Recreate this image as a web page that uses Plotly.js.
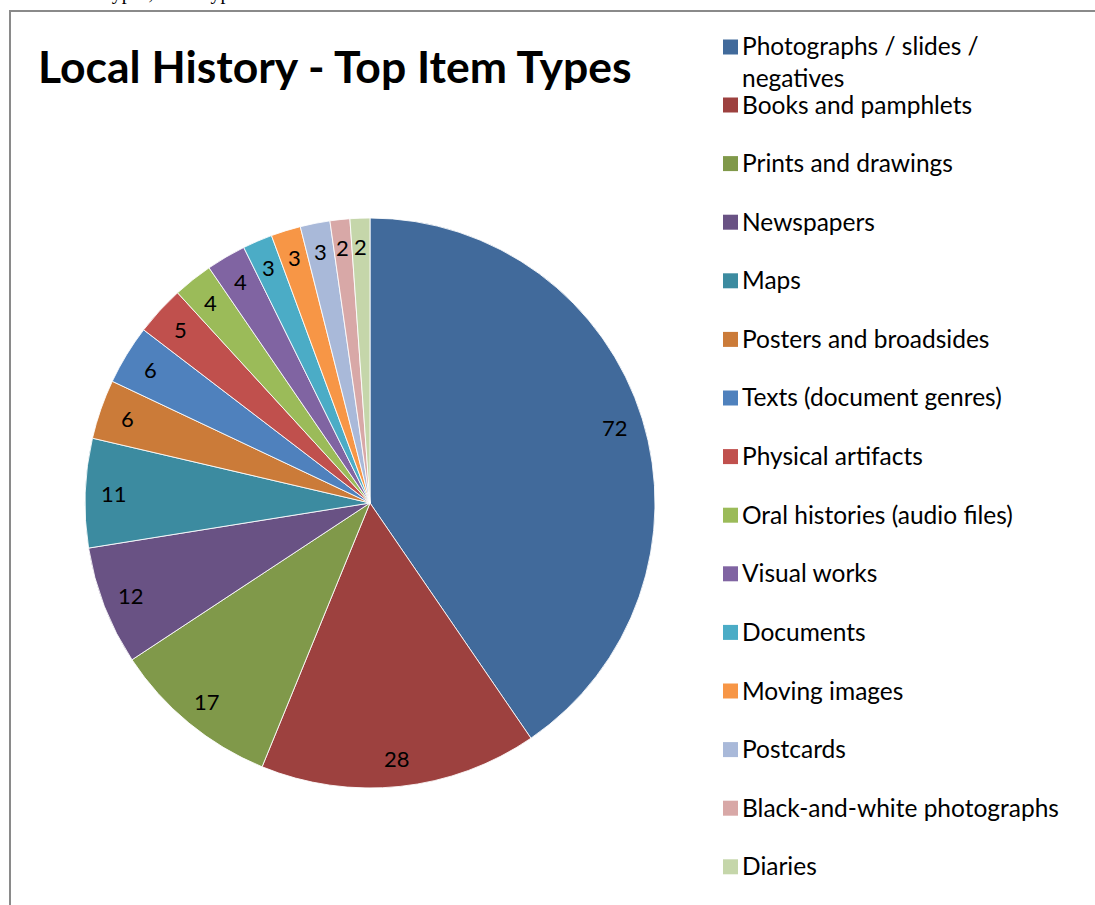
<!DOCTYPE html>
<html>
<head>
<meta charset="utf-8">
<script src="https://cdn.plot.ly/plotly-3.0.1.min.js"></script>
<style>html,body{margin:0;padding:0;background:#fff;}#chart{width:1095px;height:905px;}</style>
</head>
<body>
<div id="chart"></div>
<script>
// ---- data ----
const categories = [
  "Photographs / slides / negatives",
  "Books and pamphlets",
  "Prints and drawings",
  "Newspapers",
  "Maps",
  "Posters and broadsides",
  "Texts (document genres)",
  "Physical artifacts",
  "Oral histories (audio files)",
  "Visual works",
  "Documents",
  "Moving images",
  "Postcards",
  "Black-and-white photographs",
  "Diaries"
];
const values = [72, 28, 17, 12, 11, 6, 6, 5, 4, 4, 3, 3, 3, 2, 2];
const legendLabels = [
  "Photographs / slides /<br>negatives",
  "Books and pamphlets",
  "Prints and drawings",
  "Newspapers",
  "Maps",
  "Posters and broadsides",
  "Texts (document genres)",
  "Physical artifacts",
  "Oral histories (audio files)",
  "Visual works",
  "Documents",
  "Moving images",
  "Postcards",
  "Black-and-white photographs",
  "Diaries"
];
const colors = [
  "#416A9B", "#9D413F", "#80994A", "#695284", "#3C8BA0", "#CB7B39",
  "#4F81BD", "#C0504D", "#9BBB59", "#8064A2", "#4BACC6", "#F79646",
  "#A9B9D9", "#D8A8A7", "#C5D6AA"
];
const titleText = "Local History - Top Item Types";
const clippedText = "Types, Item Types";

// ---- layout constants ----
const W = 1095, H = 905;
const cx = 370, cy = 503, R = 285;
const labelFactor = 0.9;
const legendX = 723, legendTop = 46, legendStep = 58.6, swatch = 15;
const font = "Lato, 'Open Sans', sans-serif";

const px = x => x / W;
const py = y => 1 - y / H;

const trace = {
  type: "pie",
  labels: categories,
  values: values,
  sort: false,
  direction: "clockwise",
  rotation: 0,
  textinfo: "none",
  hoverinfo: "label+value",
  marker: { colors: colors, line: { color: "rgba(255,255,255,0.85)", width: 1 } },
  domain: { x: [px(cx - R), px(cx + R)], y: [py(cy + R), py(cy - R)] },
  showlegend: false
};

const annotations = [];
const shapes = [];

// data labels from cumulative angles
const total = values.reduce((a, b) => a + b, 0);
let cum = 0;
values.forEach((v, i) => {
  const th = 2 * Math.PI * (cum + v / 2) / total;
  cum += v;
  const x = cx + R * labelFactor * Math.sin(th);
  const y = cy - R * labelFactor * Math.cos(th);
  annotations.push({
    xref: "paper", yref: "paper", x: px(x), y: py(y),
    xanchor: "center", yanchor: "middle", showarrow: false,
    text: String(v), font: { family: font, size: 22, color: "#000" }
  });
});

// legend
legendLabels.forEach((lab, i) => {
  const yc = i === 0 ? legendTop : legendTop + 58 + (i - 1) * legendStep;
  shapes.push({
    type: "rect", xref: "paper", yref: "paper",
    x0: px(legendX), x1: px(legendX + swatch),
    y0: py(yc + 1 + swatch / 2), y1: py(yc + 1 - swatch / 2),
    fillcolor: colors[i], line: { width: 0 }
  });
  const ycText = i === 0 ? yc + 16 : yc;
  annotations.push({
    xref: "paper", yref: "paper", x: px(legendX + swatch + 2), y: py(ycText),
    xanchor: "left", yanchor: "middle", align: "left", showarrow: false,
    text: lab, font: { family: font, size: 24.5, color: "#000" }
  });
});

// title
annotations.push({
  xref: "paper", yref: "paper", x: px(36), y: py(65),
  xanchor: "left", yanchor: "middle", showarrow: false,
  text: "<b>" + titleText + "</b>", font: { family: font, size: 44.5, color: "#000" }
});

// clipped text from surrounding document (only descenders visible)
annotations.push({
  xref: "paper", yref: "paper", x: px(99), y: py(6),
  xanchor: "left", yanchor: "bottom", showarrow: false,
  text: clippedText, font: { family: "'Liberation Serif', serif", size: 20, color: "#000" }
});

// frame
shapes.push({
  type: "rect", xref: "paper", yref: "paper",
  x0: px(10), x1: px(W + 20), y0: py(H + 20), y1: py(11),
  line: { color: "#8a8a8a", width: 2 }, fillcolor: "rgba(0,0,0,0)", layer: "below"
});

const layout = {
  width: W, height: H,
  margin: { l: 0, r: 0, t: 0, b: 0, pad: 0 },
  paper_bgcolor: "#fff", plot_bgcolor: "#fff",
  showlegend: false,
  annotations: annotations,
  shapes: shapes
};

Plotly.newPlot("chart", [trace], layout, { displayModeBar: false, staticPlot: true });
</script>
</body>
</html>
